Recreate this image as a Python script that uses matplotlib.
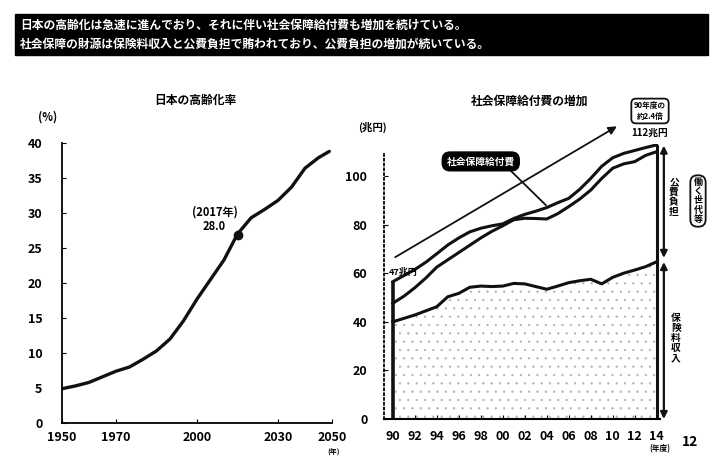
import matplotlib.pyplot as plt
from matplotlib.patches import Rectangle

plt.rcParams['font.family'] = ['Noto Sans CJK JP', 'DejaVu Sans']
plt.rcParams['font.weight'] = 'bold'
plt.rcParams['hatch.linewidth'] = 0.4
plt.rcParams['hatch.color'] = '#b0b0b0'

# 日本の高齢化率 (%)
aging_years = [1950, 1955, 1960, 1965, 1970, 1975, 1980, 1985, 1990, 1995,
               2000, 2005, 2010, 2015, 2020, 2025, 2030, 2035, 2040, 2045, 2049]
aging_rate = [4.9, 5.3, 5.8, 6.6, 7.4, 8.0, 9.1, 10.3, 12.0, 14.6,
              17.7, 20.5, 23.3, 27.0, 29.3, 30.5, 31.8, 33.7, 36.4, 37.9, 38.8]
mark_year, mark_rate = 2015, 26.8
left_xticks = [1950, 1970, 2000, 2030, 2050]

# 社会保障給付費の増加 (兆円)
fy = list(range(1990, 2015))
benefit = [56.5, 59.0, 61.5, 64.5, 68.0, 71.6, 74.5, 77.0, 78.5, 79.5, 80.3, 82.5,
           84.2, 85.5, 87.0, 89.0, 90.8, 94.5, 99.0, 104.0, 107.5, 109.3, 110.5, 111.7, 112.8]
funding = [47.6, 50.5, 54.0, 58.0, 62.5, 65.5, 68.5, 71.5, 74.5, 77.2, 79.5, 82.0,
           82.6, 82.5, 82.3, 84.5, 87.4, 90.5, 94.2, 99.0, 103.2, 105.0, 105.9, 108.5, 110.0]
premium = [40.0, 41.4, 42.8, 44.5, 46.2, 50.3, 51.7, 54.2, 54.7, 54.5, 54.7, 55.8,
           55.6, 54.5, 53.4, 54.7, 56.1, 56.9, 57.5, 55.6, 58.3, 60.0, 61.3, 62.7, 64.7]
fy_labels = ['90', '92', '94', '96', '98', '00', '02', '04', '06', '08', '10', '12', '14']

W, H = 721, 462
def fx(px):
    return px / W
def fy_(py):
    return 1 - py / H

ink = '#111111'
fig = plt.figure(figsize=(7.21, 4.62), dpi=100)

# header bar
fig.patches.append(Rectangle((fx(15), fy_(55)), fx(693), 41 / H,
                             transform=fig.transFigure, color='black'))
fig.text(fx(20), fy_(25), '日本の高齢化は急速に進んでおり、それに伴い社会保障給付費も増加を続けている。',
         color='white', fontsize=8.5, va='center')
fig.text(fx(20), fy_(44), '社会保障の財源は保険料収入と公費負担で賄われており、公費負担の増加が続いている。',
         color='white', fontsize=8.5, va='center')

# left chart
ax1 = fig.add_axes([fx(62), fy_(423), fx(270), 280 / H])
ax1.plot(aging_years, aging_rate, color=ink, lw=2.4, solid_capstyle='round')
ax1.plot(mark_year, mark_rate, 'o', ms=6, color=ink)
ax1.text(2006.5, 29.1, '(2017年)\n28.0', ha='center', va='center', fontsize=8, linespacing=1.1)
ax1.set_xlim(1950, 2050)
ax1.set_ylim(0, 40)
ax1.set_xticks(left_xticks)
ax1.set_yticks(range(0, 41, 5))
for s in ['top', 'right']:
    ax1.spines[s].set_visible(False)
for s in ['left', 'bottom']:
    ax1.spines[s].set_linewidth(1.3)
ax1.tick_params(direction='in', length=3, labelsize=9, pad=6)
ax1.tick_params(axis='y', pad=14)
fig.text(fx(195), fy_(100), '日本の高齢化率', ha='center', va='center', fontsize=8.5)
fig.text(fx(48), fy_(117), '(%)', ha='center', va='center', fontsize=8)
fig.text(fx(334), fy_(452), '(年)', ha='center', va='center', fontsize=5)

# right chart
ax2 = fig.add_axes([fx(384), fy_(419), fx(276), (419 - 144.4) / H])
ax2.fill_between(fy, 0, premium, facecolor='white', hatch='..', lw=0)
ax2.plot(fy, premium, color=ink, lw=2.2)
ax2.plot(fy, funding, color=ink, lw=2.2)
ax2.plot(fy, benefit, color=ink, lw=2.2)
ax2.vlines(fy[0], 0, benefit[0], color=ink, lw=2.6)
ax2.vlines(fy[-1], 0, benefit[-1], color=ink, lw=2.2)
ax2.set_xlim(1989.2, 2014.3)
ax2.set_ylim(0, 113)
ax2.set_xticks(fy[::2])
ax2.set_xticklabels(fy_labels)
ax2.set_yticks(range(0, 101, 20))
for s in ['top', 'right']:
    ax2.spines[s].set_visible(False)
ax2.spines['left'].set_linestyle(':')
ax2.spines['left'].set_linewidth(1.3)
ax2.spines['left'].set_bounds(0, 110)
ax2.spines['bottom'].set_linewidth(1.5)
ax2.tick_params(direction='in', length=3, labelsize=9, pad=8)
ax2.tick_params(axis='y', pad=12)

ax2.annotate('', xy=(2010.6, 121), xytext=(1990, 66), annotation_clip=False,
             arrowprops=dict(arrowstyle='-|>', lw=1.3, color=ink, mutation_scale=12))
ax2.text(1989.6, 60.5, '47兆円', ha='left', va='center', fontsize=6.5)
ax2.annotate('', xy=(2004.1, 87.2), xytext=(2000.2, 104.5), annotation_clip=False,
             arrowprops=dict(arrowstyle='-', lw=1.3, color=ink))
ax2.text(1998.0, 106, '社会保障給付費', ha='center', va='center', fontsize=7, color='white',
         bbox=dict(boxstyle='round,pad=0.45,rounding_size=0.8', fc='black', ec='black'))

# right-side braces
ax2.annotate('', xy=(2014.65, 112.5), xytext=(2014.65, 66.3), annotation_clip=False,
             arrowprops=dict(arrowstyle='<|-|>', lw=1.6, color=ink, mutation_scale=10,
                             shrinkA=0, shrinkB=0))
ax2.annotate('', xy=(2014.65, 64.6), xytext=(2014.65, 0), annotation_clip=False,
             arrowprops=dict(arrowstyle='<|-|>', lw=1.6, color=ink, mutation_scale=10,
                             shrinkA=0, shrinkB=0))

fig.text(fx(530), fy_(101), '社会保障給付費の増加', ha='center', va='center', fontsize=8.5)
fig.text(fx(372), fy_(127), '(兆円)', ha='center', va='center', fontsize=7.5)
fig.text(fx(650), fy_(111), '90年度の\n約2.4倍', ha='center', va='center', fontsize=5.5,
         linespacing=1.2,
         bbox=dict(boxstyle='round,pad=0.35,rounding_size=0.6', fc='white', ec=ink, lw=1.3))
fig.text(fx(650), fy_(133), '112兆円', ha='center', va='center', fontsize=7)
fig.text(fx(674), fy_(197), '\n'.join('公費負担'), ha='center', va='center', fontsize=7,
         linespacing=1.0)
fig.text(fx(676), fy_(338), '\n'.join('保険料収入'), ha='center', va='center', fontsize=7,
         linespacing=1.0)
fig.text(fx(698), fy_(201), '\n'.join('働く世代等'), ha='center', va='center', fontsize=6.5,
         linespacing=1.0,
         bbox=dict(boxstyle='round,pad=0.35,rounding_size=0.8', fc='white', ec=ink, lw=1.3))
fig.text(fx(660), fy_(449), '(年度)', ha='center', va='center', fontsize=5.5)
fig.text(fx(690), fy_(442), '12', ha='center', va='center', fontsize=10)

fig.savefig('out.png', dpi=100)
